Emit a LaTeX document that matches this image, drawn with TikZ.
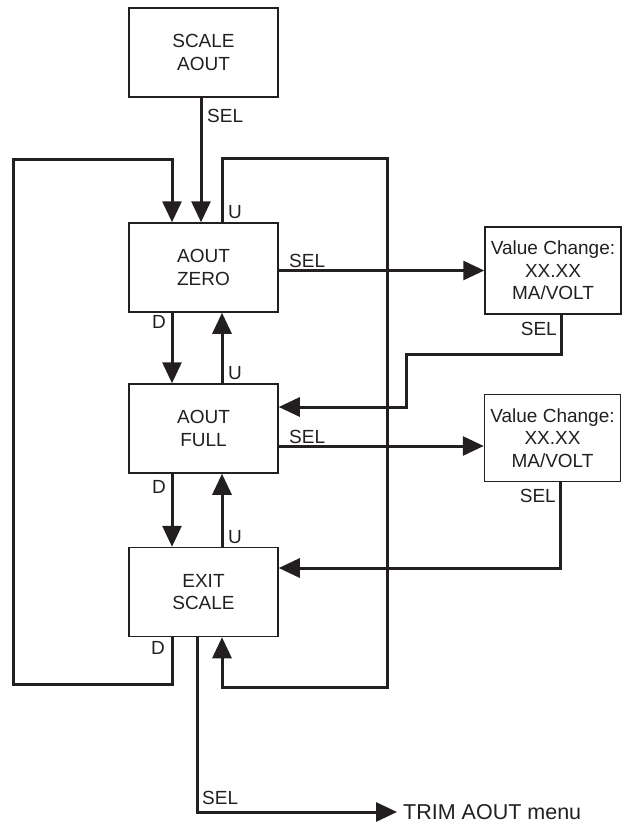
\documentclass[tikz,border=0pt]{standalone}
\usepackage{fontspec}
\setmainfont{Liberation Sans}
\usetikzlibrary{arrows.meta,calc}
\definecolor{ink}{HTML}{231F20}
\begin{document}
\begin{tikzpicture}[x=1pt,y=-1pt,
  box/.style={draw=ink,line width=1.5pt,minimum width=149pt,minimum height=89pt,align=center,inner sep=0pt,font=\fontsize{19}{22.5}\selectfont,text=ink},
  vbox/.style={box,minimum width=136pt,minimum height=87pt},
  conn/.style={draw=ink,line width=3pt},
  arr/.style={conn,-{Triangle[width=19pt,length=21pt]}},
  lbl/.style={font=\fontsize{19}{22}\selectfont,text=ink,inner sep=0pt}]
\useasboundingbox (0,0) rectangle (622,823);
% boxes
\node[box] (sa) at (203.5,52.5) {SCALE\\AOUT};
\node[box] (zero) at (203.5,267.5) {AOUT\\ZERO};
\node[box] (full) at (203.5,428.5) {AOUT\\FULL};
\node[box] (exit) at (203.5,592) {EXIT\\SCALE};
\node[vbox] (v1) at (553,270.5) {Value Change:\\XX.XX\\MA/VOLT};
\node[vbox] (v2) at (552.5,438) {Value Change:\\XX.XX\\MA/VOLT};
\node[anchor=west,font=\fontsize{21.5}{26}\selectfont,text=ink,inner xsep=6pt,inner ysep=0pt] (trim) at (397,812) {TRIM AOUT menu};
% helper coordinates
\coordinate (xL) at (172,0);
\coordinate (xM) at (201,0);
\coordinate (xR) at (222,0);
\coordinate (xS) at (197,0);
\coordinate (xV) at (561,0);
\coordinate (xW) at (560,0);
\coordinate (lb) at (13,684);
\coordinate (lt) at (13,159);
\coordinate (rt) at (387,158);
\coordinate (rb) at (387,687);
\coordinate (k1) at (406,354);
\coordinate (k2) at (406,407);
\coordinate (y2) at (0,446);
\coordinate (y3) at (0,568);
% connectors
\draw[arr] (sa.south -| xM) -- (zero.north -| xM);
\draw[arr] (exit.south -| xL) |- (lb) -- (lt) -| (zero.north -| xL);
\draw[arr] (zero.north -| xR) |- (rt) -- (rb) -| (exit.south -| xR);
\draw[arr] (zero.south -| xL) -- (full.north -| xL);
\draw[arr] (full.north -| xR) -- (zero.south -| xR);
\draw[arr] (full.south -| xL) -- (exit.north -| xL);
\draw[arr] (exit.north -| xR) -- (full.south -| xR);
\draw[arr] (zero.east |- v1.west) -- (v1.west);
\draw[arr] (full.east |- y2) -- (v2.west |- y2);
\draw[arr] (v1.south -| xV) |- (k1) -- (k2) -- (full.east |- k2);
\draw[arr] (v2.south -| xW) |- (exit.east |- y3);
\draw[arr] (exit.south -| xS) |- (trim.west);
% labels
\node[lbl,anchor=west] (s1) at (207,116) {SEL};
\node[lbl,anchor=west] (u1) at (228,212) {U};
\node[lbl,anchor=east] (d1) at (166,322) {D};
\node[lbl,anchor=west] (u2) at (228,373) {U};
\node[lbl,anchor=east] (d2) at (166,487) {D};
\node[lbl,anchor=west] (u3) at (228,537) {U};
\node[lbl,anchor=east] (d3) at (165,648) {D};
\node[lbl,anchor=west] (s2) at (289,261) {SEL};
\node[lbl,anchor=west] (s3) at (289,437) {SEL};
\node[lbl,anchor=east] (s4) at (557,329) {SEL};
\node[lbl,anchor=east] (s5) at (556,496) {SEL};
\node[lbl,anchor=west] (s6) at (202,798) {SEL};
\end{tikzpicture}
\end{document}
